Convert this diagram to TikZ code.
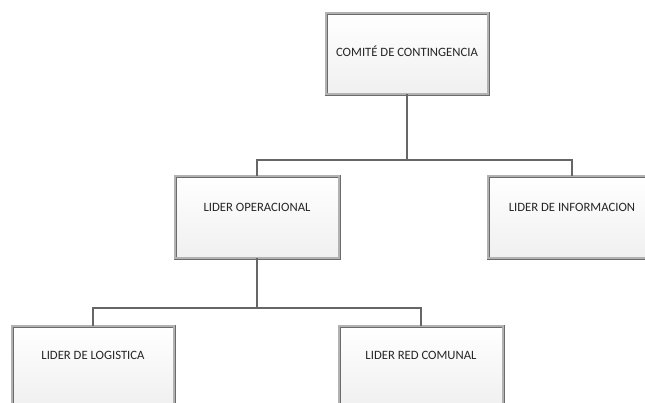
\documentclass[tikz,border=0pt]{standalone}
\usepackage{fontspec}
\setmainfont{Carlito}
\usetikzlibrary{positioning,calc,shadows}

\begin{document}
\begin{tikzpicture}[x=1pt,y=-1pt,
  orgbox/.style={draw=black!58,line width=0.9pt,double=black!30,double distance=1.2pt,
    top color=white,bottom color=black!6,minimum width=164pt,minimum height=82pt,
    inner sep=0pt,drop shadow={opacity=0.2,shadow xshift=1.5pt,shadow yshift=-1.5pt}},
  orgtext/.style={font=\fontsize{12.7}{14}\selectfont,text=black!85,anchor=mid,inner sep=0pt},
  orgline/.style={draw=black!60,line width=1.5pt}
]
  \useasboundingbox (0,0) rectangle (645,402);
  \clip (0,0) rectangle (645,402);
  % boxes
  \node[orgbox,minimum width=162pt,minimum height=81pt] (comite) at (407,53.5) {};
  \node[orgbox] (oper) at (257,217) {};
  \node[orgbox,minimum width=168pt] (info) at (572,217) {};
  \node[orgbox,minimum width=162pt] (logis) at (93,367) {};
  \node[orgbox] (comunal) at (421,367) {};
  % texts
  \node[orgtext] (comiteT) at ([yshift=-42pt]comite.north) {COMITÉ DE CONTINGENCIA};
  \node[orgtext] (operT) at ([yshift=-34pt]oper.north) {LIDER OPERACIONAL};
  \node[orgtext] (infoT) at ([yshift=-34pt]info.north) {LIDER DE INFORMACION};
  \node[orgtext] (logisT) at ([yshift=-32pt]logis.north) {LIDER DE LOGISTICA};
  \node[orgtext] (comunalT) at ([yshift=-32pt]comunal.north) {LIDER RED COMUNAL};
  % connectors
  \coordinate (branchA) at (407,160);
  \coordinate (branchB) at (257,308);
  \draw[orgline] (comite.south) -- (branchA);
  \draw[orgline] (oper.north) |- (branchA) -| (info.north);
  \draw[orgline] (oper.south) -- (branchB);
  \draw[orgline] (logis.north) |- (branchB) -| (comunal.north);
\end{tikzpicture}
\end{document}
